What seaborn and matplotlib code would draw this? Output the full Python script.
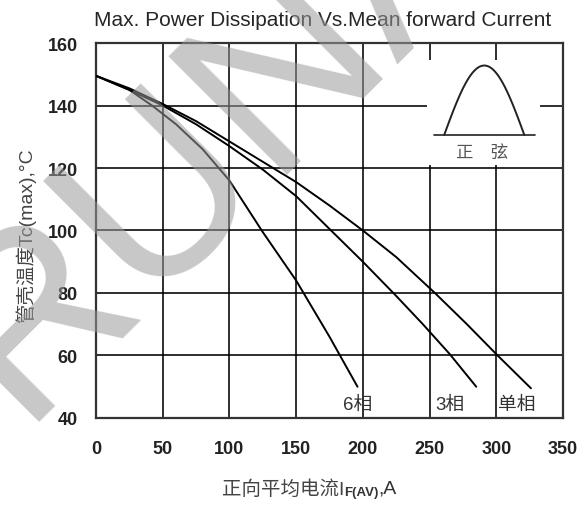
import numpy as np
import pandas as pd
import matplotlib
matplotlib.use("Agg")
import matplotlib.pyplot as plt
import seaborn as sns

# Curve data (current A, case temp degC)
x_single = [0, 25, 50, 75, 100, 125, 150, 175, 200, 225, 254, 278, 301, 326]
t_single = [149.5, 145.5, 140.5, 135, 128.5, 122, 115.5, 108, 100, 91.5, 80, 70, 60, 49.5]

x_three = [0, 25, 50, 75, 100, 125, 150, 175, 200, 224, 245, 265, 285]
t_three = [149.5, 145, 140, 134, 127, 119.5, 111, 100.5, 90, 79.5, 70, 60.5, 50]

x_six = [0, 25, 42, 60, 80, 100, 125, 150, 175, 196]
t_six = [149.5, 145, 140, 134, 126, 116, 99.5, 84, 66, 50]

curve_labels = ["单相", "3相", "6相"]
label_x = [315, 265, 196]
label_y = 44.5

x_ticks = [0, 50, 100, 150, 200, 250, 300, 350]
y_ticks = [40, 60, 80, 100, 120, 140, 160]

sns.set_style("white")
plt.rcParams['font.family'] = ['Liberation Sans', 'Noto Sans CJK SC', 'DejaVu Sans']
plt.rcParams['axes.unicode_minus'] = False

df = pd.concat([
    pd.DataFrame({'I': x_single, 'T': t_single, 'curve': curve_labels[0]}),
    pd.DataFrame({'I': x_three, 'T': t_three, 'curve': curve_labels[1]}),
    pd.DataFrame({'I': x_six, 'T': t_six, 'curve': curve_labels[2]}),
])

fig = plt.figure(figsize=(5.87, 5.06), dpi=100)
ax = fig.add_axes([0.1635, 0.172, 0.7956, 0.741])

sns.lineplot(data=df, x='I', y='T', units='curve', estimator=None, sort=False,
             color='black', linewidth=1.4, ax=ax, zorder=3)

ax.set_xlim(0, 350)
ax.set_ylim(40, 160)
ax.set_xticks(x_ticks)
ax.set_yticks(y_ticks)
ax.grid(True, color='black', linewidth=1.15)
ax.set_axisbelow(True)
ax.tick_params(axis='both', length=0, labelsize=13, colors='#222222')
ax.tick_params(axis='x', pad=16)
ax.tick_params(axis='y', pad=13)
for lab in ax.get_xticklabels() + ax.get_yticklabels():
    lab.set_fontweight('bold')
for sp in ax.spines.values():
    sp.set_color('#333333')
    sp.set_linewidth(1.6)

ax.set_xlabel('')
ax.set_ylabel('管壳温度Tc(max),°C', fontsize=14, color='#444444')
ax.yaxis.set_label_coords(-0.128, 0.49)
ax.set_title('Max. Power Dissipation Vs.Mean forward Current', fontsize=15, pad=13, x=0.485)

# x label built from pieces so the subscript keeps the CJK font
xl1 = fig.text(0.378, 0.033, '正向平均电流I', fontsize=14, color='#444444',
               ha='left', va='center')
xl2 = ax.annotate('F(AV)', xy=(1.0, -0.04), xycoords=xl1, fontsize=9.5,
                  fontweight='bold', color='#333333', ha='left', va='bottom')
ax.annotate(',A', xy=(1.0, 0.5), xycoords=(xl2, xl1), fontsize=14,
            color='#333333', ha='left', va='center')

for txt, lx in zip(curve_labels, label_x):
    ax.text(lx, label_y, txt, fontsize=13.5, color='#333333',
            ha='center', va='center', zorder=4)

# sine waveform icon in the upper right, on a white patch that hides the grid
ins = ax.inset_axes([248, 121, 84.5, 33.6], transform=ax.transData, zorder=2)
ins.set_xlim(248, 332.5)
ins.set_ylim(121, 154.6)
ins.axis('off')
ins.add_patch(plt.Rectangle((248, 121), 84.5, 33.6, color='white', zorder=0))
xs = np.linspace(261, 321, 80)
ins.plot(xs, 130.6 + 22.2 * np.sin(np.pi * (xs - 261) / 60), color='#222222', lw=1.4)
ins.plot([253.3, 329], [130.6, 130.6], color='#222222', lw=1.2)
ins.text(289.5, 125.2, '正　弦', fontsize=12.5, color='#555555', ha='center', va='center')

# faint company watermark over the plot
fig.text(0.034, 0.164, 'RUNAU', fontsize=175, color='#9a9a9a', alpha=0.55,
         rotation=45, rotation_mode='anchor', ha='left', va='baseline', zorder=10)

fig.savefig('out.png', dpi=100)
